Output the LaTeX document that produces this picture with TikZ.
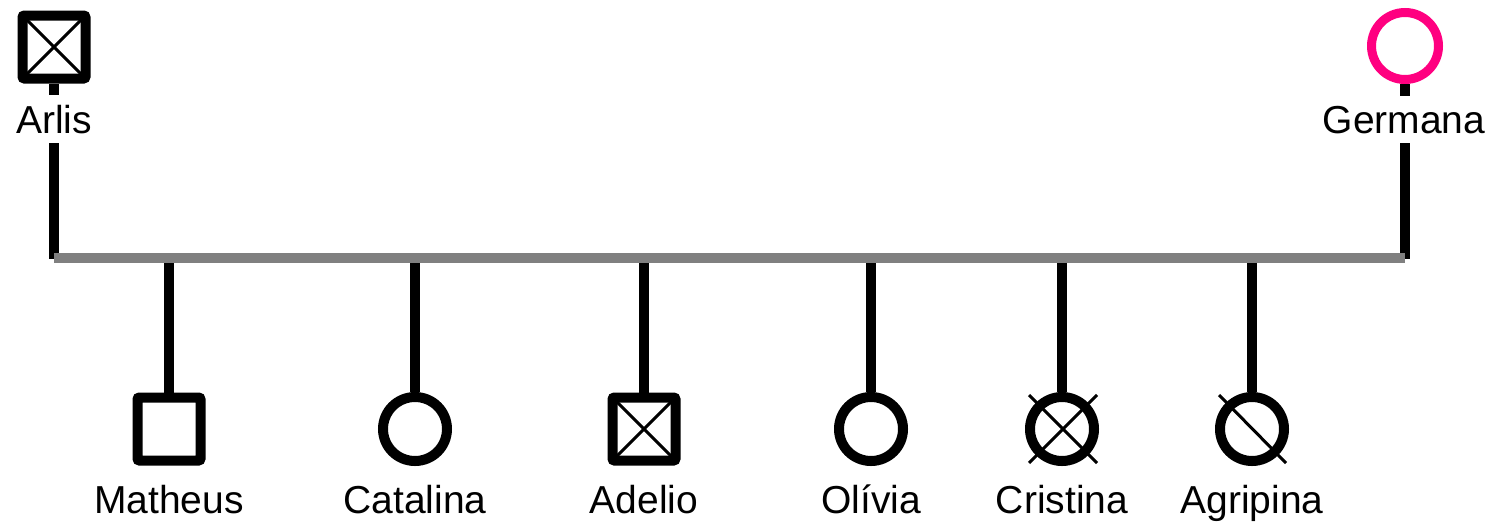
\documentclass[tikz,border=0pt]{standalone}
\usepackage{fontspec}
\setmainfont{Liberation Sans}
\definecolor{pinkf}{RGB}{255,0,128}
\definecolor{bargray}{RGB}{128,128,128}
\begin{document}
\begin{tikzpicture}[x=1pt,y=-1pt,
  male/.style={draw, line width=10pt, rectangle, minimum size=63pt, inner sep=0pt, rounded corners=2pt, fill=white},
  female/.style={draw, line width=10pt, circle, minimum size=64pt, inner sep=0pt, fill=white},
  crossed/.style={path picture={\draw[line width=3pt] (path picture bounding box.north west) -- (path picture bounding box.south east) (path picture bounding box.north east) -- (path picture bounding box.south west);}},
  lbl/.style={font=\fontsize{39}{41}\selectfont, inner sep=0pt, anchor=base},
  plbl/.style={lbl, fill=white, inner xsep=2pt, inner ysep=10pt},
  stem/.style={line width=10pt},
  bar/.style={line width=10pt, draw=bargray},
  slash/.style={line width=3pt}]
\useasboundingbox (0,0) rectangle (1494,528);
% parents
\node[male, crossed] (arlis) at (54,47) {};
\node[female, draw=pinkf, line width=9pt, minimum size=67pt] (germana) at (1405,46) {};
\coordinate (L) at (54,258);
\coordinate (R) at (1405,258);
\draw[stem] (arlis.south) -- ([yshift=-1pt]arlis |- L);
\draw[stem] (germana.south) -- ([yshift=-1pt]germana |- R);
\node[plbl] (arlisl) at (54,133) {Arlis};
\node[plbl] (germanal) at (1404,133) {Germana};
% children
\node[male] (matheus) at (169,429) {};
\node[female] (catalina) at (415,429) {};
\node[male, crossed] (adelio) at (644,429) {};
\node[female] (olivia) at (871,429) {};
\node[female] (cristina) at (1062,429) {};
\node[female] (agripina) at (1252,429) {};
\foreach \c in {matheus,catalina,adelio,olivia,cristina,agripina}
  \draw[stem] (\c |- L) -- (\c.north);
\draw[bar] (L) -- (R);
\draw[slash] ([shift={(-33,-34)}]cristina.center) -- ([shift={(35,34)}]cristina.center)
             ([shift={(35,-34)}]cristina.center) -- ([shift={(-33,34)}]cristina.center);
\draw[slash] ([shift={(-33,-34)}]agripina.center) -- ([shift={(34,34)}]agripina.center);
% labels
\node[lbl] (matheusl) at (169,513) {Matheus};
\node[lbl] (catalinal) at (415,513) {Catalina};
\node[lbl] (adeliol) at (644,513) {Adelio};
\node[lbl] (olivial) at (871,513) {Olívia};
\node[lbl] (cristinal) at (1062,513) {Cristina};
\node[lbl] (agripinal) at (1252,513) {Agripina};
\end{tikzpicture}
\end{document}
